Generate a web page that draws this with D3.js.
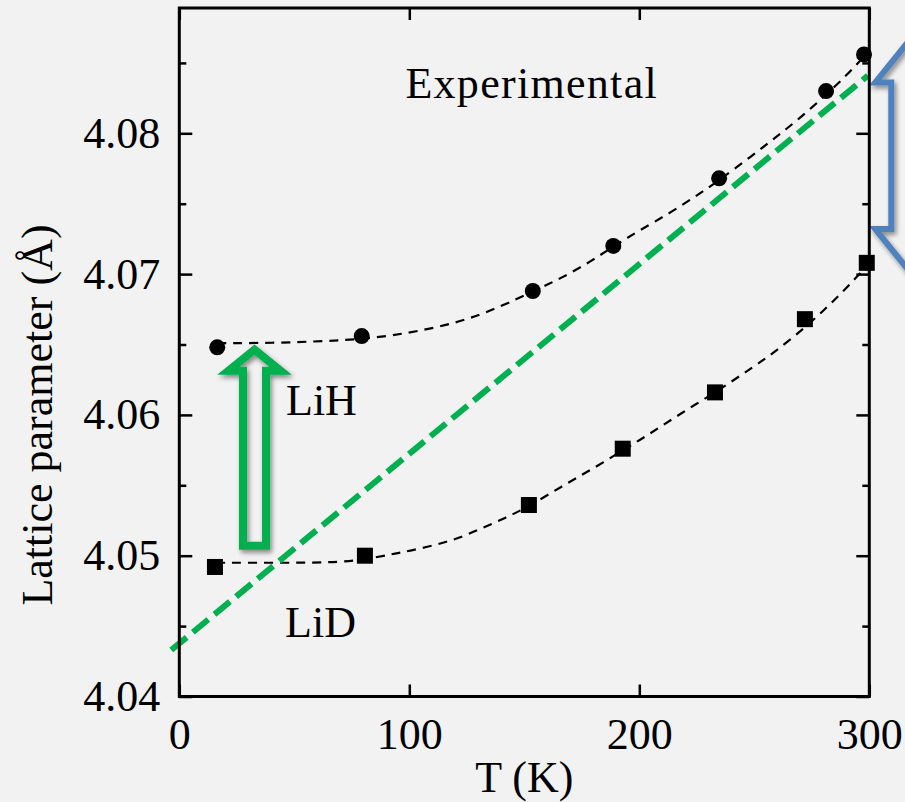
<!DOCTYPE html>
<html>
<head>
<meta charset="utf-8">
<script src="https://cdn.jsdelivr.net/npm/d3@7/dist/d3.min.js"></script>
<style>
  html, body { margin: 0; padding: 0; background: #f2f2f2; }
  svg { display: block; }
  text { font-family: "Liberation Serif", "Times New Roman", serif; fill: #000; }
</style>
</head>
<body>
<svg id="chart" width="905" height="802"></svg>
<script>
// Measured lattice parameters (Å) versus temperature (K)
const T_LiH = [16.5, 79.3, 153.7, 188.7, 234.7, 281.2, 297.7];
const a_LiH = [4.0648, 4.0656, 4.0688, 4.0720, 4.0768, 4.0830, 4.0856];
const T_LiD = [15.5, 80.7, 152.0, 192.8, 232.9, 272.0, 298.9];
const a_LiD = [4.0492, 4.0500, 4.0536, 4.0576, 4.0616, 4.0668, 4.0708];

// Guide curves through each data set
const T_fitLiH = [16.5, 40, 65, 80, 96, 121, 140, 154, 166, 179, 189, 199, 214, 227, 235, 249, 260, 270, 281, 290, 298];
const a_fitLiH = [4.0651, 4.0651, 4.06525, 4.0654, 4.0657, 4.0665, 4.0677, 4.0688, 4.0697, 4.0709, 4.0720, 4.0730, 4.0744, 4.0758, 4.0767, 4.0784, 4.0798, 4.0811, 4.0827, 4.0841, 4.0855];
const T_fitLiD = [16, 40, 66, 80, 92, 99, 118, 131, 142, 152, 166, 179, 193, 205, 218, 233, 245, 253, 260, 272, 280, 287, 294, 299];
const a_fitLiD = [4.0495, 4.0495, 4.0495, 4.0497, 4.0501, 4.0503, 4.0510, 4.0519, 4.0527, 4.0535, 4.0549, 4.0561, 4.0575, 4.0587, 4.0601, 4.0616, 4.0629, 4.0638, 4.0646, 4.0662, 4.0674, 4.0685, 4.0697, 4.0706];

// Linear trend (green dashed)
const T_trend = [-3.5, 299.4];
const a_trend = [4.0433, 4.0841];

// Axis ticks
const xTicks = [0, 100, 200, 300];
const xTickLabels = ["0", "100", "200", "300"];
const yTicks = [4.04, 4.05, 4.06, 4.07, 4.08];
const yTickLabels = ["4.04", "4.05", "4.06", "4.07", "4.08"];
const yMinorTicks = [4.045, 4.055, 4.065, 4.075, 4.085];

const xDomain = [0, 300];
const yDomain = [4.04, 4.0889];

const svg = d3.select("#chart");
const plotLeft = 179.3, plotRight = 869.3, plotTop = 8, plotBottom = 696.5;

const x = d3.scaleLinear().domain(xDomain).range([plotLeft, plotRight]);
const y = d3.scaleLinear().domain(yDomain).range([plotBottom, plotTop]);

const defs = svg.append("defs");
const shadow = defs.append("filter").attr("id", "shadow")
  .attr("x", "-30%").attr("y", "-30%").attr("width", "160%").attr("height", "160%");
shadow.append("feGaussianBlur").attr("in", "SourceAlpha").attr("stdDeviation", 2.5).attr("result", "b");
shadow.append("feOffset").attr("in", "b").attr("dx", 2).attr("dy", 3).attr("result", "o");
shadow.append("feComponentTransfer").attr("in", "o").attr("result", "s")
  .append("feFuncA").attr("type", "linear").attr("slope", 0.45);
const merge = shadow.append("feMerge");
merge.append("feMergeNode").attr("in", "s");
merge.append("feMergeNode").attr("in", "SourceGraphic");

const fontSize = 44;

// Guide curves
const curveLine = d3.line().x(d => x(d[0])).y(d => y(d[1])).curve(d3.curveBasis);
svg.append("path")
  .datum(T_fitLiH.map((t, i) => [t, a_fitLiH[i]]))
  .attr("d", curveLine).attr("fill", "none")
  .attr("stroke", "#000").attr("stroke-width", 2.2).attr("stroke-dasharray", "9,7");
svg.append("path")
  .datum(T_fitLiD.map((t, i) => [t, a_fitLiD[i]]))
  .attr("d", curveLine).attr("fill", "none")
  .attr("stroke", "#000").attr("stroke-width", 2.2).attr("stroke-dasharray", "9,7");

// Linear trend
svg.append("path")
  .datum(T_trend.map((t, i) => [t, a_trend[i]]))
  .attr("d", d3.line().x(d => x(d[0])).y(d => y(d[1])))
  .attr("fill", "none").attr("stroke", "#00b050")
  .attr("stroke-width", 6).attr("stroke-dasharray", "20,8");

// Markers
svg.append("g").selectAll("circle")
  .data(T_LiH.map((t, i) => [t, a_LiH[i]]))
  .join("circle")
  .attr("cx", d => x(d[0])).attr("cy", d => y(d[1])).attr("r", 8).attr("fill", "#000");
const sq = 16;
svg.append("g").selectAll("rect")
  .data(T_LiD.map((t, i) => [t, a_LiD[i]]))
  .join("rect")
  .attr("x", d => x(d[0]) - sq / 2).attr("y", d => y(d[1]) - sq / 2)
  .attr("width", sq).attr("height", sq).attr("fill", "#000");

// Hollow green up arrow (isotope shift at low T)
const gArrowT = 32.7, gArrowBase = 4.0507, gArrowTip = 4.06463;
{
  const cx = x(gArrowT), yb = y(gArrowBase), yt = y(gArrowTip);
  const sw = 11.5, hw = 26, hh = 21;
  const p = d3.path();
  p.moveTo(cx, yt);
  p.lineTo(cx + hw, yt + hh);
  p.lineTo(cx + sw, yt + hh);
  p.lineTo(cx + sw, yb);
  p.lineTo(cx - sw, yb);
  p.lineTo(cx - sw, yt + hh);
  p.lineTo(cx - hw, yt + hh);
  p.closePath();
  svg.append("path").attr("d", p.toString())
    .attr("fill", "none").attr("stroke", "#00b050").attr("stroke-width", 8)
    .attr("stroke-linejoin", "miter").attr("stroke-miterlimit", 10)
    .attr("filter", "url(#shadow)");
}

// Hollow blue double arrow at the right edge
const bArrowWingTop = 4.0836, bArrowWingBottom = 4.0732;
{
  const cx = x(300) + 48, wx = x(300) + 6, sx = x(300) + 22;
  const yw1 = y(bArrowWingTop), yw2 = y(bArrowWingBottom);
  const slope = 1.24;
  const yTip1 = yw1 - (cx - wx) * slope, yTip2 = yw2 + (cx - wx) * slope;
  const wxr = 2 * cx - wx, sxr = 2 * cx - sx;
  const p = d3.path();
  p.moveTo(cx, yTip1);
  p.lineTo(wx, yw1);
  p.lineTo(sx, yw1);
  p.lineTo(sx, yw2);
  p.lineTo(wx, yw2);
  p.lineTo(cx, yTip2);
  p.lineTo(wxr, yw2);
  p.lineTo(sxr, yw2);
  p.lineTo(sxr, yw1);
  p.lineTo(wxr, yw1);
  p.closePath();
  svg.append("path").attr("d", p.toString())
    .attr("fill", "none").attr("stroke", "#4f81bd").attr("stroke-width", 6)
    .attr("stroke-linejoin", "miter").attr("stroke-miterlimit", 10)
    .attr("filter", "url(#shadow)");
}

// Labels inside the plot
const labels = [
  { text: "Experimental", T: 98.3, a: 4.08252, spacing: 1.3 },
  { text: "LiH", T: 46.4, a: 4.06001, spacing: 0 },
  { text: "LiD", T: 46.0, a: 4.04425, spacing: 0 }
];
svg.append("g").selectAll("text")
  .data(labels).join("text")
  .attr("x", d => x(d.T)).attr("y", d => y(d.a))
  .attr("letter-spacing", d => d.spacing)
  .attr("font-size", fontSize).text(d => d.text);

// Axes with inward ticks on all four sides
function styleAxis(g) {
  g.select(".domain").remove();
  g.selectAll(".tick line").attr("stroke", "#000").attr("stroke-width", 2.5);
  g.selectAll(".tick text").attr("font-size", fontSize)
    .attr("font-family", '"Liberation Serif", "Times New Roman", serif').attr("fill", "#000");
}
svg.append("g").attr("transform", `translate(${plotLeft},0)`)
  .call(d3.axisLeft(y).tickValues(yTicks).tickFormat((d, i) => yTickLabels[i])
    .tickSizeInner(-13).tickSizeOuter(0).tickPadding(19))
  .call(styleAxis);
svg.append("g").attr("transform", `translate(${plotLeft},0)`)
  .call(d3.axisLeft(y).tickValues(yMinorTicks).tickFormat("").tickSizeInner(-7).tickSizeOuter(0))
  .call(styleAxis);
svg.append("g").attr("transform", `translate(${plotRight},0)`)
  .call(d3.axisRight(y).tickValues(yTicks).tickFormat("").tickSizeInner(-13).tickSizeOuter(0))
  .call(styleAxis);
svg.append("g").attr("transform", `translate(${plotRight},0)`)
  .call(d3.axisRight(y).tickValues(yMinorTicks).tickFormat("").tickSizeInner(-7).tickSizeOuter(0))
  .call(styleAxis);
svg.append("g").attr("transform", `translate(0,${plotBottom})`)
  .call(d3.axisBottom(x).tickValues(xTicks).tickFormat((d, i) => xTickLabels[i])
    .tickSizeInner(-12).tickSizeOuter(0).tickPadding(21))
  .call(styleAxis);
svg.append("g").attr("transform", `translate(0,${plotTop})`)
  .call(d3.axisTop(x).tickValues(xTicks).tickFormat("").tickSizeInner(-12).tickSizeOuter(0))
  .call(styleAxis);

// Frame
svg.append("rect")
  .attr("x", plotLeft).attr("y", plotTop).attr("width", plotRight - plotLeft).attr("height", plotBottom - plotTop)
  .attr("fill", "none").attr("stroke", "#000").attr("stroke-width", 3);

// Axis titles
svg.append("text")
  .attr("x", (plotLeft + plotRight) / 2).attr("y", 792)
  .attr("text-anchor", "middle").attr("font-size", fontSize).text("T (K)");
svg.append("text")
  .attr("transform", "translate(52,415) rotate(-90)")
  .attr("text-anchor", "middle").attr("font-size", fontSize).text("Lattice parameter (Å)");
</script>
</body>
</html>
